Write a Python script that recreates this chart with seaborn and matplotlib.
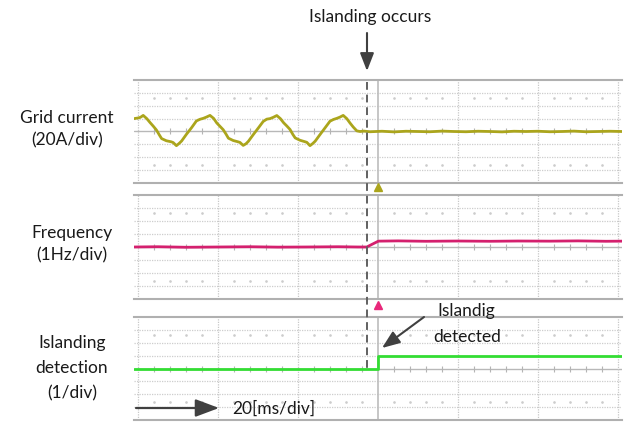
import numpy as np
import pandas as pd
import seaborn as sns
import matplotlib.pyplot as plt
from matplotlib.lines import Line2D

# Time axis in ms (20 ms per division), signal values in divisions
t_current = [-1.0, 0.0, 0.6, 1.3, 2.2, 3.0, 3.8, 4.6, 5.3, 5.9, 7.1, 8.3, 8.8, 9.6, 10.3, 10.9, 12.1, 13.4, 14.6, 15.5, 16.3, 17.1,
             18.0, 18.9, 19.7, 20.5, 21.3, 22.0, 22.6, 23.8, 25.0, 25.5, 26.3, 27.0, 27.6, 28.8, 30.1, 31.3, 32.2, 33.0, 33.8,
             34.7, 35.6, 36.4, 37.2, 38.0, 38.7, 39.3, 40.5, 41.7, 42.2, 43.0, 43.7, 44.3, 45.5, 46.8, 48.0, 48.9, 49.7, 50.5,
             51.3, 52.2, 53.0, 53.8, 54.7, 55.5, 56.5, 58.0, 61.0, 64.0, 67.0, 70.0, 73.0, 76.0, 79.0, 82.0, 85.0, 88.0,
             91.0, 94.0, 97.0, 100.0, 103.0, 106.0, 109.0, 112.0, 115.0, 118.0, 121.0]
i_current = [1.0, 1.05, 1.1, 1.25, 1.0, 0.7, 0.42, 0.12, -0.25, -0.55, -0.72, -0.8, -0.86, -1.1, -0.92, -0.74, -0.22, 0.3, 0.82, 0.95, 1.02, 1.12,
             1.25, 1.02, 0.66, 0.4, 0.14, -0.2, -0.52, -0.7, -0.8, -0.85, -1.08, -0.95, -0.76, -0.25, 0.28, 0.78, 0.96, 1.0, 1.1,
             1.24, 1.0, 0.68, 0.43, 0.16, -0.22, -0.5, -0.68, -0.79, -0.84, -1.1, -0.93, -0.75, -0.24, 0.3, 0.8, 0.94, 1.02, 1.12,
             1.25, 1.0, 0.66, 0.35, 0.05, 0.0, 0.03, -0.02, 0.02, -0.03, 0.02, 0.0, -0.02, 0.03, 0.0, -0.02, 0.02, 0.0,
             -0.03, 0.02, 0.0, 0.02, -0.02, 0.0, 0.03, -0.02, 0.0, 0.02, 0.0]

t_freq = [-1.0, 5.0, 12.0, 20.0, 28.0, 35.0, 42.0, 50.0, 55.0, 57.2, 58.6, 60.1, 65.0, 72.0, 80.0, 88.0, 95.0, 103.0, 110.0, 117.0, 121.0]
f_freq = [0.0, 0.02, -0.02, 0.0, 0.02, -0.01, 0.0, 0.02, 0.0, 0.0, 0.22, 0.45, 0.47, 0.44, 0.46, 0.44, 0.46, 0.45, 0.47, 0.44, 0.45]

t_detect = [-1.0, 60.0, 60.0, 121.0]
d_detect = [0.0, 0.0, 1.0, 1.0]

panels = [
    (t_current, i_current, '#aba51c', 80, 183, ['Grid current', '(20A/div)'], [118, 140], 67),
    (t_freq, f_freq, '#d4206e', 195, 299, ['Frequency', '(1Hz/div)'], [233, 255], 72),
    (t_detect, d_detect, '#33dd33', 317, 420, ['Islanding', 'detection', '(1/div)'], [343, 368, 393], 72),
]

W, H = 630, 423
sns.set_theme(style='white')
plt.rcParams['font.family'] = ['Lato', 'DejaVu Sans']

fig = plt.figure(figsize=(W / 100, H / 100), dpi=100)

subdiv = [t for t in np.arange(4, 120, 4) if t % 20 != 0]

for t, v, color, top, bottom, labels, label_y, label_x in panels:
    ax = fig.add_axes([134 / W, (H - bottom) / H, 488 / W, (bottom - top) / H])
    ax.set_xlim(-1, 121)
    ax.set_ylim(-4, 4)
    for y in [-3, -2, -1, 1, 2, 3]:
        ax.axhline(y, color='#cdcdcd', lw=0.9, ls=(0, (1, 1)), zorder=1)
    ax.axhline(0, color='#b8b8b8', lw=1.0, zorder=1)
    for x in [0, 20, 40, 80, 100, 120]:
        ax.axvline(x, color='#c8c8c8', lw=0.9, ls=(0, (1, 1)), zorder=1)
    ax.axvline(60, color='#bcbcbc', lw=1.2, zorder=1)
    ax.plot(subdiv, [0] * len(subdiv), ls='none', marker='|', ms=4, mew=0.8, color='#b4b4b4', zorder=1)
    for y in [2.6, -2.6]:
        ax.plot(subdiv, [y] * len(subdiv), ls='none', marker='o', ms=0.9, color='#cccccc', zorder=1)

    df = pd.DataFrame({'t': t, 'v': v})
    sns.lineplot(data=df, x='t', y='v', ax=ax, color=color, lw=2.0, estimator=None, sort=False, zorder=3)

    ax.set_xticks([])
    ax.set_yticks([])
    ax.set_xlabel('')
    ax.set_ylabel('')
    for side in ['left', 'right']:
        ax.spines[side].set_visible(False)
    for side in ['top', 'bottom']:
        ax.spines[side].set_color('#b0b0b0')
        ax.spines[side].set_linewidth(1.5)

    for txt, y in zip(labels, label_y):
        fig.text(label_x / W, 1 - y / H, txt, ha='center', va='center', fontsize=12.5, color='#1a1a1a')

    if top == 195:
        ax.plot([60], [4.62], marker='^', ms=6, color='#aba51c', clip_on=False, ls='none')
    if top == 317:
        ax.plot([60], [4.93], marker='^', ms=6, color='#e8287a', clip_on=False, ls='none')

# islanding instant (dashed)
fig.add_artist(Line2D([367 / W, 367 / W], [1 - 82 / H, 1 - 369 / H], transform=fig.transFigure,
                      color='#606060', lw=1.4, ls=(0, (4, 2.5)), zorder=5))

arrow = dict(arrowstyle='-|>,head_width=0.35,head_length=0.9', color='#404040', lw=1.5, shrinkA=0, shrinkB=0)
big_arrow = dict(arrowstyle='-|>,head_width=0.45,head_length=1.2', color='#404040', lw=1.6, shrinkA=0, shrinkB=0)

fig.text(370 / W, 1 - 17 / H, 'Islanding occurs', ha='center', va='center', fontsize=12.5, color='#1a1a1a')
plt.annotate('', xy=(367, H - 71), xytext=(367, H - 33), xycoords='figure pixels',
             textcoords='figure pixels', arrowprops=arrow)

fig.text(466 / W, 1 - 311 / H, 'Islandig', ha='center', va='center', fontsize=12.5, color='#1a1a1a')
fig.text(467 / W, 1 - 337 / H, 'detected', ha='center', va='center', fontsize=12.5, color='#1a1a1a')
plt.annotate('', xy=(382, H - 348), xytext=(424, H - 317), xycoords='figure pixels',
             textcoords='figure pixels', arrowprops=arrow)

fig.text(232 / W, 1 - 409 / H, '20[ms/div]', ha='left', va='center', fontsize=12.5, color='#1a1a1a')
plt.annotate('', xy=(219, H - 408), xytext=(136, H - 408), xycoords='figure pixels',
             textcoords='figure pixels', arrowprops=big_arrow)

fig.savefig('out.png', dpi=100)
